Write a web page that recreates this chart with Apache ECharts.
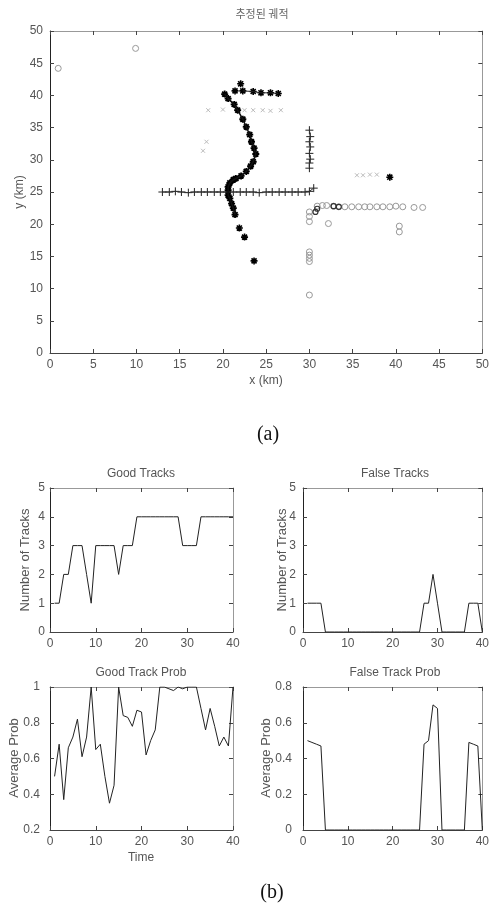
<!DOCTYPE html>
<html><head><meta charset="utf-8">
<script src="https://cdn.jsdelivr.net/npm/echarts/dist/echarts.min.js"></script>
<style>html,body{margin:0;padding:0;background:#fff}#c{width:492px;height:913px}</style>
</head><body><div id="c"></div>
<script>
// ---------- (a) estimated tracks (x km, y km) ----------
const plusHorizTrack = [[13.0,25.0],[13.8,25.0],[14.5,25.1],[15.2,25.0],[16.0,24.9],[16.7,25.0],[17.5,25.0],[18.2,25.0],[19.0,25.0],[19.7,25.0],[20.5,25.0],[21.2,25.0],[22.0,25.0],[22.7,25.0],[23.5,25.0],[24.2,24.9],[25.0,25.0],[25.7,25.0],[26.5,25.0],[27.2,25.0],[28.0,25.0],[28.7,25.0],[29.5,25.0],[30.0,25.1],[30.5,25.6]];
const plusVertTrack = [[30.0,28.7],[30.0,29.5],[30.1,30.1],[30.0,31.0],[30.1,32.0],[30.0,32.8],[30.1,33.6],[30.0,34.6]];
const starCurveTrack = [[21.4,21.5],[21.2,22.5],[21.0,23.2],[20.8,24.0],[20.6,24.5],[20.6,25.3],[20.6,25.8],[20.8,26.4],[21.2,26.9],[21.5,27.1],[22.1,27.5],[22.7,28.2],[23.2,29.0],[23.5,29.7],[23.8,30.9],[23.6,31.8],[23.3,32.8],[23.1,33.9],[22.7,35.1],[22.3,36.3],[21.7,37.7],[21.3,38.6],[20.6,39.5],[20.2,40.2]];
const starTopTrack = [[22.3,40.7],[23.5,40.6],[24.4,40.4],[25.5,40.4],[26.4,40.3]];
const starLoose = [[23.6,14.3],[22.5,18.0],[21.9,19.4],[22.05,41.8],[21.4,40.7],[39.3,27.3]];
const faintCross = [[18.3,37.7],[20.0,37.8],[22.5,37.7],[23.5,37.7],[24.6,37.7],[25.5,37.6],[26.7,37.7],[35.5,27.6],[36.2,27.6],[37.0,27.7],[37.8,27.7],[17.7,31.4],[18.1,32.8]];
const circlePoints = [[30.9,22.8],[31.5,22.9],[32.0,22.9],[32.8,22.8],[33.4,22.7],[34.1,22.7],[34.9,22.7],[35.7,22.7],[36.4,22.7],[37.0,22.7],[37.8,22.7],[38.5,22.7],[39.3,22.7],[40.0,22.8],[40.8,22.7],[42.1,22.6],[43.1,22.6],[30.0,21.9],[30.0,21.2],[30.0,20.4],[30.0,15.7],[30.0,15.2],[30.0,14.7],[30.0,14.2],[30.0,9.0],[32.2,20.1],[40.4,19.7],[40.4,18.8],[0.95,44.2],[9.9,47.3]];
const darkCircles = [[30.7,21.9],[30.9,22.4],[32.8,22.8],[33.4,22.7]];

// ---------- (b) track statistics over time ----------
const timeSteps = [1,2,3,4,5,6,7,8,9,10,11,12,13,14,15,16,17,18,19,20,21,22,23,24,25,26,27,28,29,30,31,32,33,34,35,36,37,38,39,40];
const goodTracks = [1,1,2,2,3,3,3,2,1,3,3,3,3,3,2,3,3,3,4,4,4,4,4,4,4,4,4,4,3,3,3,3,4,4,4,4,4,4,4,4];
const falseTracks = [1,1,1,1,0,0,0,0,0,0,0,0,0,0,0,0,0,0,0,0,0,0,0,0,0,0,1,1,2,1,0,0,0,0,0,0,1,1,1,0];
const goodTrackProb = [0.50,0.68,0.37,0.66,0.72,0.82,0.61,0.72,1.0,0.65,0.68,0.50,0.35,0.45,1.0,0.84,0.83,0.78,0.87,0.86,0.62,0.70,0.76,1.0,1.0,0.99,0.98,1.0,0.99,1.0,1.0,1.0,0.88,0.76,0.88,0.78,0.67,0.72,0.67,1.0];
const falseTrackProb = [0.50,0.49,0.48,0.47,0,0,0,0,0,0,0,0,0,0,0,0,0,0,0,0,0,0,0,0,0,0,0.48,0.50,0.70,0.68,0,0,0,0,0,0,0.49,0.48,0.47,0];

const zip = (xs, ys) => xs.map((x, i) => [x, ys[i]]);

const FONT = 'Liberation Sans';
const PLUS = 'path://M0,-5L0,5M-5,0L5,0';
const STAR = 'path://M0,-5L0,5M-5,0L5,0M-3.6,-3.6L3.6,3.6M-3.6,3.6L3.6,-3.6';

const grids = [
  {left:50, top:31, width:437, height:322},
  {left:50, top:488, width:183, height:144},
  {left:303, top:488, width:184, height:144},
  {left:50, top:687, width:183, height:143},
  {left:303, top:687, width:184, height:143}
];

const xAxes = [], yAxes = [];
function addBox(gi, xr, yr, yMargin) {
  const tick = {inside:true, length:4, lineStyle:{color:'#444'}};
  const lbl = {color:'#555', fontSize:12, fontFamily:FONT};
  xAxes.push({gridIndex:gi, type:'value', position:'bottom', min:xr[0], max:xr[1], interval:xr[2],
    splitLine:{show:false}, axisTick:tick, axisLine:{onZero:false, lineStyle:{color:'#444'}}, axisLabel:Object.assign({margin:6}, lbl)});
  xAxes.push({gridIndex:gi, type:'value', position:'top', min:xr[0], max:xr[1], interval:xr[2],
    splitLine:{show:false}, axisTick:tick, axisLine:{onZero:false, lineStyle:{color:'#999'}}, axisLabel:{show:false}});
  yAxes.push({gridIndex:gi, type:'value', position:'left', min:yr[0], max:yr[1], interval:yr[2],
    splitLine:{show:false}, axisTick:tick, axisLine:{onZero:false, lineStyle:{color:'#222'}}, axisLabel:Object.assign({margin:yMargin}, lbl)});
  yAxes.push({gridIndex:gi, type:'value', position:'right', min:yr[0], max:yr[1], interval:yr[2],
    splitLine:{show:false}, axisTick:tick, axisLine:{onZero:false, lineStyle:{color:'#999'}}, axisLabel:{show:false}});
  return {xAxisIndex:xAxes.length-2, yAxisIndex:yAxes.length-2};
}
const axA = addBox(0, [0,50,5], [0,50,5], 7);
const axGT = addBox(1, [0,40,10], [0,5,1], 5);
const axFT = addBox(2, [0,40,10], [0,5,1], 7);
const axGP = addBox(3, [0,40,10], [0.2,1,0.2], 10);
const axFP = addBox(4, [0,40,10], [0,0.8,0.2], 11);

function lineS(ax, data, color, width) {
  return Object.assign({type:'line', data:data, showSymbol:false, symbol:'none', silent:true,
    lineStyle:{color:color||'#222', width:width||1}, animation:false}, ax);
}
function markS(ax, data, symbol, size, stroke, bw, fill) {
  return Object.assign({type:'scatter', data:data, symbol:symbol, symbolSize:size, silent:true, animation:false,
    itemStyle:{color:fill||'rgba(0,0,0,0)', borderColor:stroke, borderWidth:bw, opacity:1}}, ax);
}

const series = [
  lineS(axA, plusHorizTrack, '#333', 1),
  lineS(axA, plusVertTrack, '#333', 1),
  lineS(axA, starCurveTrack, '#111', 1.5),
  lineS(axA, starTopTrack, '#222', 1),
  markS(axA, circlePoints, 'circle', 6, '#999', 1),
  markS(axA, darkCircles, 'circle', 5, '#333', 1.2),
  markS(axA, faintCross, 'path://M-4,-4L4,4M-4,4L4,-4', 4, '#bbb', 1),
  markS(axA, plusHorizTrack, PLUS, 8, '#222', 1),
  markS(axA, plusVertTrack, PLUS, 8, '#222', 1),
  markS(axA, starCurveTrack, STAR, 7, '#000', 1.8),
  markS(axA, starTopTrack, STAR, 7, '#000', 1.6),
  markS(axA, starLoose, STAR, 7, '#000', 1.6),
  lineS(axGT, zip(timeSteps, goodTracks)),
  lineS(axFT, zip(timeSteps, falseTracks)),
  lineS(axGP, zip(timeSteps, goodTrackProb)),
  lineS(axFP, zip(timeSteps, falseTrackProb))
];

function txt(x, y, s, size) {
  return {type:'text', x:x, y:y, silent:true,
    style:{text:s, fill:'#555', font: size + 'px "' + FONT + '"', textAlign:'center', textVerticalAlign:'middle'}};
}
function vtxt(x, y, s, size) {
  const t = txt(x, y, s, size);
  t.rotation = Math.PI / 2;
  return t;
}
const graphics = [
  {type:'text', x:262, y:14, silent:true, style:{text:'추정된 궤적', fill:'#666', font:'11px "Noto Sans CJK KR"', textAlign:'center', textVerticalAlign:'middle'}},
  txt(266, 381, 'x (km)', 12),
  vtxt(20, 192, 'y (km)', 12),
  {type:'text', x:268, y:435, silent:true, style:{text:'(a)', fill:'#111', font:'20px "Liberation Serif"', textAlign:'center', textVerticalAlign:'middle'}},
  txt(141, 474, 'Good Tracks', 12),
  txt(395, 474, 'False Tracks', 12),
  vtxt(25, 560, 'Number of Tracks', 13),
  vtxt(282, 560, 'Number of Tracks', 13),
  txt(141, 673, 'Good Track Prob', 12),
  txt(395, 673, 'False Track Prob', 12),
  vtxt(14, 758, 'Average Prob', 13),
  vtxt(266, 758, 'Average Prob', 13),
  txt(141, 858, 'Time', 12),
  {type:'text', x:272, y:893, silent:true, style:{text:'(b)', fill:'#111', font:'20px "Liberation Serif"', textAlign:'center', textVerticalAlign:'middle'}}
];

const chart = echarts.init(document.getElementById('c'), null, {renderer:'canvas'});
chart.setOption({
  animation:false,
  backgroundColor:'#fff',
  grid: grids,
  xAxis: xAxes,
  yAxis: yAxes,
  series: series,
  graphic: graphics
});
</script>
</body></html>
